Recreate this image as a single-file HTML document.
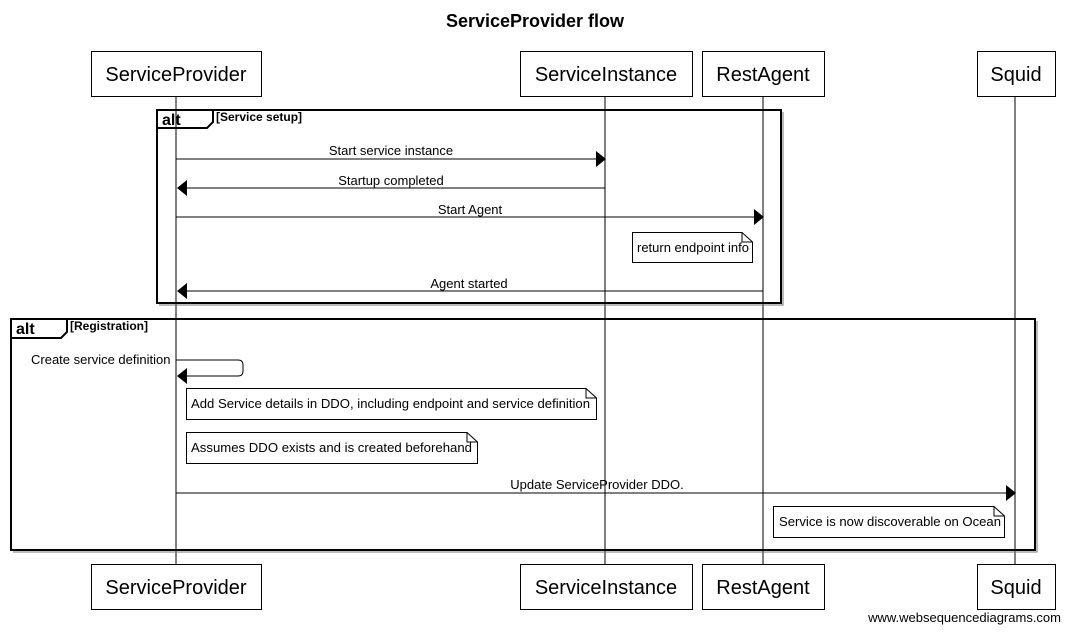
<!DOCTYPE html>
<html><head><style>body{margin:0;background:#fff}svg{display:block}text{font-family:"Liberation Sans",sans-serif}</style></head><body>
<svg width="1070" height="633" viewBox="0 0 1070 633" xmlns="http://www.w3.org/2000/svg">
<text x="535" y="27" font-size="18" font-weight="bold" text-anchor="middle">ServiceProvider flow</text>
<g stroke="#000" stroke-width="1">
<line x1="176" y1="96" x2="176" y2="564"/><line x1="605" y1="96" x2="605" y2="564"/>
<line x1="763" y1="96" x2="763" y2="564"/><line x1="1015" y1="96" x2="1015" y2="564"/>
</g>
<g fill="#fff" stroke="#000">
<rect x="91.5" y="51.5" width="170" height="45"/><rect x="520.5" y="51.5" width="172" height="45"/>
<rect x="702.5" y="51.5" width="122" height="45"/><rect x="977.5" y="51.5" width="78" height="45"/>
<rect x="91.5" y="564.5" width="170" height="45"/><rect x="520.5" y="564.5" width="172" height="45"/>
<rect x="702.5" y="564.5" width="122" height="45"/><rect x="977.5" y="564.5" width="78" height="45"/>
</g>
<g font-size="20" text-anchor="middle">
<text x="176" y="81">ServiceProvider</text><text x="606" y="81">ServiceInstance</text><text x="763" y="81">RestAgent</text><text x="1016" y="81">Squid</text>
<text x="176" y="594">ServiceProvider</text><text x="606" y="594">ServiceInstance</text><text x="763" y="594">RestAgent</text><text x="1016" y="594">Squid</text>
</g>
<g fill="none" stroke="#000" stroke-width="2">
<rect x="157" y="110" width="624" height="193"/>
<path d="M157 128 H207 L213 122 V110"/>
<rect x="11" y="319" width="1024" height="231"/>
<path d="M11 338 H61 L67 332 V319"/>
</g>
<g stroke="#777" fill="none"><path d="M783 112 V305 H159"/><path d="M1037 321 V552 H13"/></g>
<text x="162" y="125" font-size="16" font-weight="bold">alt</text>
<text x="216" y="121" font-size="12" font-weight="bold">[Service setup]</text>
<text x="16" y="334" font-size="16" font-weight="bold">alt</text>
<text x="70" y="330" font-size="12" font-weight="bold">[Registration]</text>
<g stroke="#000"><line x1="176" y1="159" x2="597" y2="159"/><line x1="185" y1="188" x2="605" y2="188"/>
<line x1="176" y1="217" x2="755" y2="217"/><line x1="185" y1="291" x2="763" y2="291"/>
<path d="M176 360 H238 Q243 360 243 365 V371 Q243 376 238 376 H185" fill="none"/>
<line x1="176" y1="493" x2="1007" y2="493"/></g>
<g fill="#000">
<path d="M596 151 L606 159 L596 167Z"/><path d="M187 180 L177 188 L187 196Z"/>
<path d="M754 209 L764 217 L754 225Z"/><path d="M187 283 L177 291 L187 299Z"/>
<path d="M187 368 L177 376 L187 384Z"/><path d="M1006 485 L1016 493 L1006 501Z"/>
</g>
<g font-size="13" text-anchor="middle">
<text x="391" y="155">Start service instance</text><text x="391" y="185">Startup completed</text>
<text x="470" y="214">Start Agent</text><text x="469" y="288">Agent started</text>
<text x="597" y="489">Update ServiceProvider DDO.</text>
</g>
<text x="31" y="364" font-size="13">Create service definition</text>
<g fill="#fff" stroke="#000">
<path d="M632.5 232.5 H742 L752.5 242 V262.5 H632.5Z"/>
<path d="M186.5 388.5 H586 L596.5 398 V419.5 H186.5Z"/>
<path d="M186.5 432.5 H467 L477.5 442 V463.5 H186.5Z"/>
<path d="M773.5 506.5 H994 L1004.5 516 V537.5 H773.5Z"/>
</g>
<g fill="none" stroke="#000"><path d="M742 232.5 V242 H752.5"/><path d="M586 388.5 V398 H596.5"/><path d="M467 432.5 V442 H477.5"/><path d="M994 506.5 V516 H1004.5"/></g>
<g font-size="13">
<text x="637" y="252" textLength="112" lengthAdjust="spacingAndGlyphs">return endpoint info</text>
<text x="191" y="408" textLength="399" lengthAdjust="spacingAndGlyphs">Add Service details in DDO, including endpoint and service definition</text>
<text x="191" y="452" textLength="281" lengthAdjust="spacingAndGlyphs">Assumes DDO exists and is created beforehand</text>
<text x="779" y="526" textLength="222" lengthAdjust="spacingAndGlyphs">Service is now discoverable on Ocean</text>
</g>
<text x="1061" y="622" font-size="13" text-anchor="end">www.websequencediagrams.com</text>
</svg>
</body></html>
